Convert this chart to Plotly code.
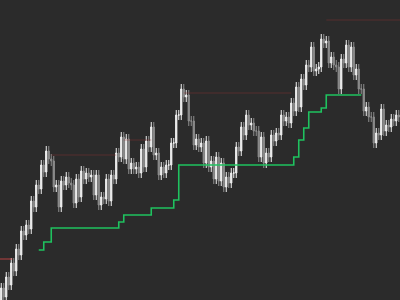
import plotly.graph_objects as go

# Close prices (chart units), one per candle
closes = [
    12, 3, 23, 15, 37, 29, 51, 45, 69, 65,
    75, 71, 99, 93, 115, 111, 135, 128, 149, 141,
    139, 113, 115, 93, 119, 115, 123, 117, 115, 97,
    121, 103, 129, 121, 127, 123, 125, 105, 125, 95,
    103, 101, 121, 99, 125, 121, 147, 143, 163, 141,
    161, 131, 137, 131, 133, 127, 151, 133, 159, 153,
    173, 145, 147, 125, 133, 127, 135, 135, 157, 157,
    185, 185, 211, 203, 205, 179, 179, 155, 161, 153,
    157, 137, 159, 133, 139, 121, 143, 119, 137, 113,
    123, 117, 127, 127, 153, 149, 173, 165, 185, 175,
    177, 169, 169, 143, 163, 137, 147, 143, 165, 159,
    167, 165, 185, 179, 183, 177, 197, 189, 213, 193,
    221, 215, 235, 233, 253, 229, 231, 233, 261, 257,
    259, 237, 243, 235, 233, 211, 241, 237, 255, 233,
    253, 225, 231, 211, 211, 189, 193, 183, 183, 157,
    167, 165, 191, 169, 175, 173, 181, 179, 185, 183,
]
first_open = 0
wick = 5

# Trailing stop (step line): candle index -> level
stop_idx = [15, 17, 20, 47, 49, 60, 69, 71, 117, 119, 121, 123, 128, 130, 144]
stop_val = [50, 58, 72, 78, 85, 92, 100, 135, 143, 160, 172, 188, 192, 205, 205]

# Horizontal levels: start index, end index, value, colour
level_x0 = [-1, 20, 49, 73, 130]
level_x1 = [4.5, 46, 60, 116, 160]
level_y = [41, 145, 160, 207, 280]
level_col = ["rgba(200,70,70,0.9)", "rgba(140,50,50,0.45)", "rgba(140,50,50,0.45)",
             "rgba(140,50,50,0.45)", "rgba(140,50,50,0.45)"]

x = list(range(len(closes)))
opens = [first_open] + closes[:-1]
highs = [max(o, c) + wick for o, c in zip(opens, closes)]
lows = [min(o, c) - wick for o, c in zip(opens, closes)]

fig = go.Figure()

for x0, x1, yv, col in zip(level_x0, level_x1, level_y, level_col):
    fig.add_trace(go.Scatter(x=[x0, x1], y=[yv, yv], mode="lines",
                             line=dict(color=col, width=1), hoverinfo="skip",
                             showlegend=False))

fig.add_trace(go.Candlestick(
    x=x, open=opens, high=highs, low=lows, close=closes,
    increasing=dict(line=dict(color="#f2f2f2", width=1), fillcolor="#f2f2f2"),
    decreasing=dict(line=dict(color="#8e8e8e", width=1), fillcolor="#8e8e8e"),
    whiskerwidth=0, showlegend=False,
))

fig.add_trace(go.Scatter(x=stop_idx, y=stop_val, mode="lines",
                         line=dict(color="#1fc25f", width=1.6, shape="hv"),
                         showlegend=False))

fig.update_layout(
    width=400, height=300,
    margin=dict(l=0, r=0, t=0, b=0),
    paper_bgcolor="#2b2b2b", plot_bgcolor="#2b2b2b",
    xaxis=dict(range=[-0.5, 159.5], visible=False, rangeslider=dict(visible=False)),
    yaxis=dict(range=[0, 300], visible=False),
    showlegend=False,
)

fig.write_html("out.html")
